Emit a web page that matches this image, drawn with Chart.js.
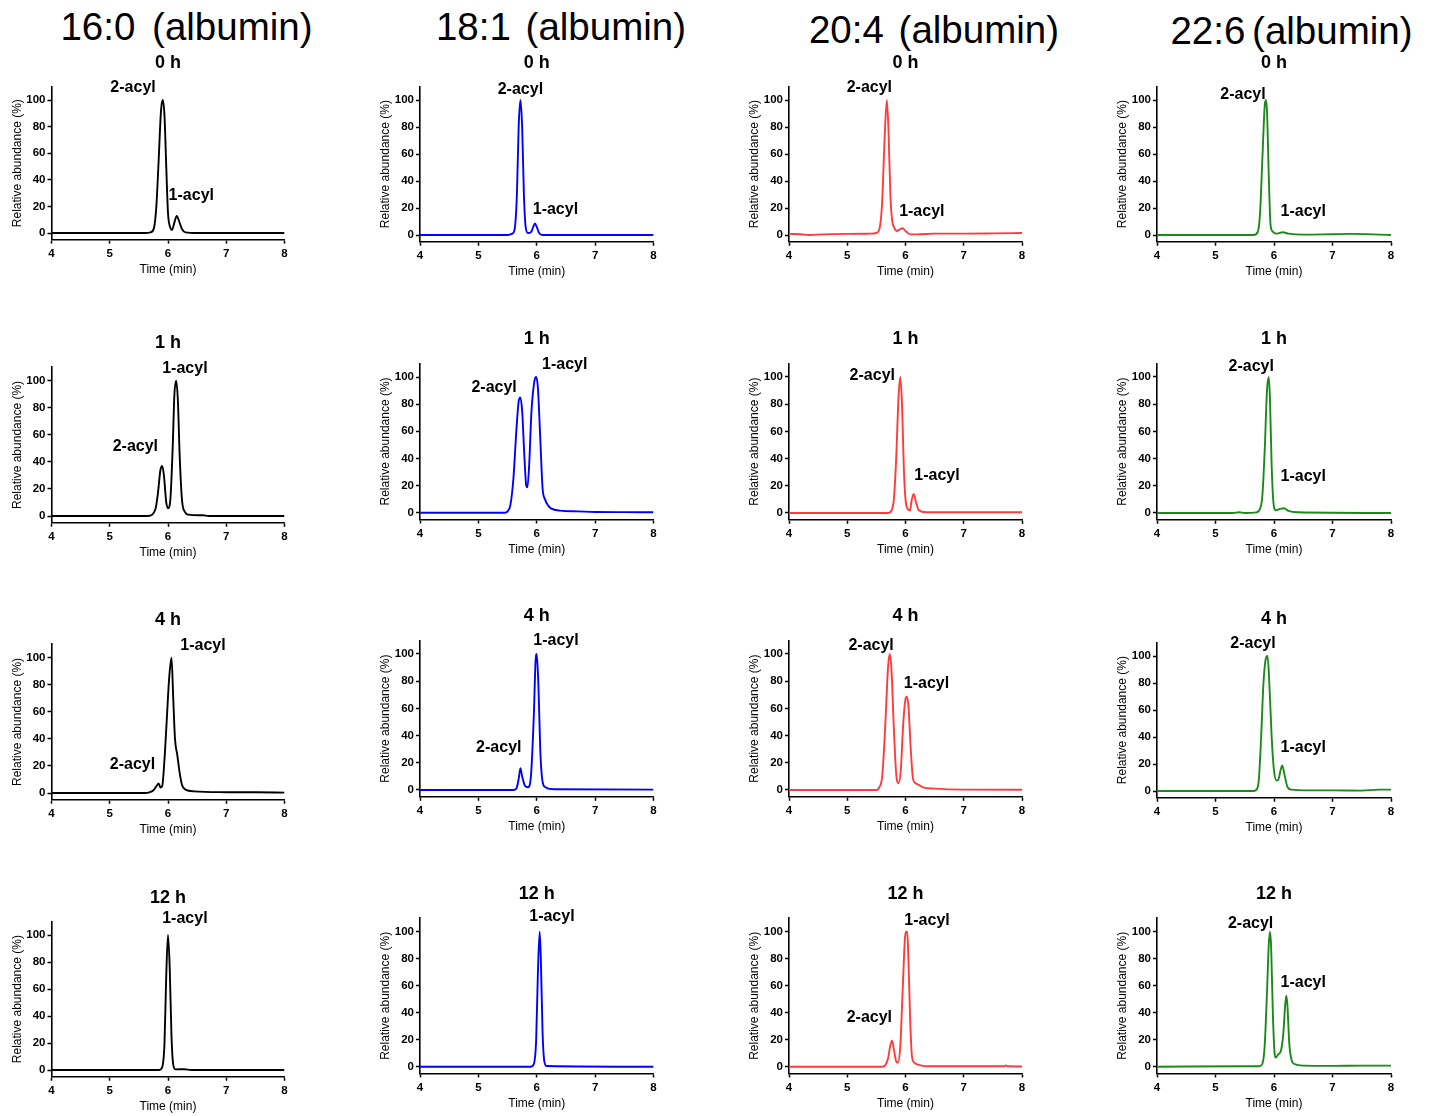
<!DOCTYPE html>
<html>
<head>
<meta charset="utf-8">
<title>Acyl migration - albumin</title>
<script src="https://cdn.jsdelivr.net/npm/chart.js@4.4.1/dist/chart.umd.min.js"></script>
<style>
  body { margin: 0; background: #fff; }
  #page { position: relative; width: 1429px; height: 1116px; overflow: hidden; }
  .head { position: absolute; width: 400px; text-align: center; font-family: 'Liberation Sans', Arial, sans-serif;
          font-size: 38.5px; line-height: 39px; color: #000; white-space: pre; }
  canvas { position: absolute; }
</style>
</head>
<body>
<div id="page"></div>
<script>
// Valeurs : [temps (min), abondance relative (%)]
const columnTitles = ['16:0 (albumin)', '18:1 (albumin)', '20:4 (albumin)', '22:6 (albumin)'];
const rowTitles = ['0 h', '1 h', '4 h', '12 h'];
const xTicks = [4, 5, 6, 7, 8];
const yTicks = [0, 20, 40, 60, 80, 100];
const lineColors = ['#000000', '#0000ff', '#ff3b3b', '#1a8a1a'];

// 0 h
const c16_0h = [[4,0],[5.6,0],[5.7,0.5],[5.76,4],[5.8,20],[5.84,55],[5.88,92],[5.91,100],[5.94,88],[5.97,50],[6.0,15],[6.04,4],[6.07,2.3],[6.11,8],[6.15,12.8],[6.19,9],[6.24,3],[6.3,0.5],[6.5,0],[8,0]];
const c18_0h = [[4,0],[5.5,0],[5.58,1],[5.62,4],[5.66,30],[5.69,80],[5.72,100],[5.75,80],[5.78,30],[5.81,6],[5.85,1.5],[5.9,2],[5.94,6],[5.97,8.5],[6.0,6],[6.04,1.5],[6.1,0],[8,0]];
const c20_0h = [[4,0.8],[4.2,0.6],[4.35,0],[4.6,0.5],[5,0.8],[5.4,1],[5.5,1.5],[5.56,6],[5.6,25],[5.64,70],[5.68,100],[5.71,75],[5.74,30],[5.77,11],[5.8,6],[5.85,3],[5.9,4],[5.95,5],[6.0,3],[6.08,0.5],[6.2,0.5],[6.5,1],[7,1],[7.5,1.2],[8,1.5]];
const c22_0h = [[4,0],[5.65,0],[5.72,2],[5.76,15],[5.8,55],[5.84,95],[5.86,100],[5.88,92],[5.91,45],[5.94,8],[5.97,3],[6.05,1],[6.15,2],[6.25,1],[6.5,0.3],[7,0.6],[7.3,0.8],[7.8,0.3],[8,0]];

// 1 h
const c16_1h = [[4,0],[5.65,0],[5.73,1],[5.79,6],[5.83,18],[5.87,34],[5.9,37],[5.93,30],[5.97,10],[6.0,5.7],[6.04,12],[6.08,50],[6.11,90],[6.14,100],[6.17,85],[6.2,45],[6.24,12],[6.29,3],[6.35,1],[6.6,0.5],[6.7,0],[8,0]];
const c18_1h = [[4,0],[5.45,0],[5.5,1],[5.55,6],[5.6,25],[5.65,60],[5.69,82],[5.72,85],[5.75,75],[5.79,40],[5.82,20],[5.84,18.7],[5.87,35],[5.91,75],[5.96,97],[5.99,100],[6.02,92],[6.06,55],[6.1,18],[6.14,10],[6.2,5],[6.25,3],[6.4,1.5],[6.7,1],[7,0.5],[7.5,0.4],[8,0.3]];
const c20_1h = [[4,0],[5.7,0],[5.76,2],[5.8,10],[5.84,40],[5.88,85],[5.91,100],[5.94,80],[5.97,35],[6.0,10],[6.04,3],[6.08,2],[6.1,8],[6.14,14],[6.18,8],[6.23,2],[6.35,0.5],[8,0.5]];
const c22_1h = [[4,0],[5.3,0],[5.4,0.5],[5.5,0],[5.7,0.5],[5.76,3],[5.8,12],[5.84,45],[5.88,90],[5.91,100],[5.93,85],[5.96,35],[5.99,8],[6.03,2],[6.1,3],[6.17,3.5],[6.25,1.5],[6.4,0.5],[8,0]];

// 4 h
const c16_4h = [[4,0],[5.6,0],[5.68,0.5],[5.75,2],[5.8,5],[5.84,7],[5.87,4],[5.9,5],[5.94,25],[5.98,55],[6.02,85],[6.06,100],[6.09,70],[6.12,40],[6.16,28],[6.2,15],[6.24,6],[6.3,2.5],[6.45,1.2],[7,0.6],[7.5,0.5],[8,0.3]];
const c18_4h = [[4,0],[5.6,0],[5.65,1],[5.69,8],[5.72,16],[5.75,10],[5.8,3],[5.85,2],[5.9,10],[5.95,55],[5.98,95],[6.0,100],[6.03,75],[6.06,30],[6.1,6],[6.15,2],[6.3,0.5],[8,0.3]];
const c20_4h = [[4,0],[5.5,0],[5.55,2],[5.6,10],[5.65,45],[5.7,90],[5.73,100],[5.76,88],[5.8,45],[5.84,12],[5.88,5],[5.92,15],[5.96,48],[6.0,67],[6.02,68.6],[6.05,62],[6.09,30],[6.13,8],[6.17,5],[6.22,4],[6.3,2],[6.5,1],[7,0.3],[8,0.2]];
const c22_4h = [[4,0],[5.65,0],[5.7,1],[5.74,8],[5.78,40],[5.82,80],[5.86,98],[5.89,100],[5.92,80],[5.96,40],[6.0,15],[6.04,8],[6.07,8],[6.11,15],[6.14,19],[6.18,12],[6.23,3],[6.3,1],[6.6,0.5],[7,0.5],[7.5,0.3],[7.8,1],[8,1]];

// 12 h
const c16_12h = [[4,0],[5.85,0],[5.9,2],[5.94,20],[5.97,70],[6.0,100],[6.03,75],[6.06,25],[6.09,4],[6.13,0.5],[6.28,0.6],[6.4,0],[8,0]];
const c18_12h = [[4,0],[5.9,0],[5.95,2],[5.99,20],[6.02,70],[6.05,100],[6.07,80],[6.1,25],[6.13,4],[6.17,0.5],[8,0]];
const c20_12h = [[4,0],[5.6,0],[5.65,1],[5.7,6],[5.74,16],[5.77,19.3],[5.8,13],[5.84,4],[5.87,3],[5.91,15],[5.95,55],[5.99,95],[6.01,100],[6.03,100],[6.05,80],[6.08,35],[6.11,8],[6.15,3],[6.22,1.5],[6.35,0.3],[7.7,0.3],[7.72,1],[7.75,0.3],[8,0.2]];
const c22_12h = [[4,0],[5.5,0.3],[5.75,0.3],[5.8,2],[5.84,15],[5.88,55],[5.91,90],[5.93,100],[5.95,90],[5.98,40],[6.01,10],[6.03,6.7],[6.07,9],[6.12,12],[6.16,25],[6.19,45],[6.21,52.6],[6.23,45],[6.26,18],[6.3,5],[6.35,2],[6.5,0.8],[7,0.6],[7.5,0.8],[8,0.8]];

// étiquettes des pics : [texte, temps, abondance]
const lab16_0h = [['2-acyl', 5.40, 110], ['1-acyl', 6.40, 29]];
const lab18_0h = [['2-acyl', 5.72, 109], ['1-acyl', 6.32, 20]];
const lab20_0h = [['2-acyl', 5.38, 110], ['1-acyl', 6.28, 18]];
const lab22_0h = [['2-acyl', 5.47, 105], ['1-acyl', 6.50, 18]];
const lab16_1h = [['1-acyl', 6.29, 110], ['2-acyl', 5.44, 52.5]];
const lab18_1h = [['1-acyl', 6.48, 110], ['2-acyl', 5.27, 93]];
const lab20_1h = [['2-acyl', 5.43, 102], ['1-acyl', 6.54, 28.5]];
const lab22_1h = [['2-acyl', 5.61, 108.5], ['1-acyl', 6.50, 28]];
const lab16_4h = [['1-acyl', 6.60, 110], ['2-acyl', 5.39, 22]];
const lab18_4h = [['1-acyl', 6.33, 110.5], ['2-acyl', 5.35, 32]];
const lab20_4h = [['2-acyl', 5.41, 107], ['1-acyl', 6.36, 79]];
const lab22_4h = [['2-acyl', 5.64, 110], ['1-acyl', 6.50, 33]];
const lab16_12h = [['1-acyl', 6.29, 113]];
const lab18_12h = [['1-acyl', 6.26, 112]];
const lab20_12h = [['1-acyl', 6.37, 109.4], ['2-acyl', 5.38, 37]];
const lab22_12h = [['2-acyl', 5.60, 107], ['1-acyl', 6.50, 63]];

const traces = [
  [c16_0h, c18_0h, c20_0h, c22_0h],
  [c16_1h, c18_1h, c20_1h, c22_1h],
  [c16_4h, c18_4h, c20_4h, c22_4h],
  [c16_12h, c18_12h, c20_12h, c22_12h]
];
const peakLabels = [
  [lab16_0h, lab18_0h, lab20_0h, lab22_0h],
  [lab16_1h, lab18_1h, lab20_1h, lab22_1h],
  [lab16_4h, lab18_4h, lab20_4h, lab22_4h],
  [lab16_12h, lab18_12h, lab20_12h, lab22_12h]
];

// mise en page (pixels) : x de 4 et 8 min par colonne, y de 100 % et 0 % par panneau
const colX = [[51.5, 284.5], [420, 653.5], [789, 1022], [1157, 1391]];
const rowY = [
  [[100, 233], [100, 235], [100, 235], [100, 235]],
  [[380.7, 516], [377, 512.7], [377, 513], [377, 513]],
  [[657.7, 793], [654, 790], [654, 790], [656, 791]],
  [[935, 1070], [931.7, 1066.7], [931.7, 1066.7], [931.7, 1066.7]]
];
const headPos = [[186.5, 7, 6], [561, 7, 4], [934, 10, 4], [1291.5, 11, -4]];

const FONT = "'Liberation Sans', Arial, sans-serif";
Chart.defaults.font.family = FONT;
Chart.defaults.color = '#000';

const page = document.getElementById('page');

columnTitles.forEach((t, i) => {
  const d = document.createElement('div');
  d.className = 'head';
  d.textContent = t;
  d.style.left = (headPos[i][0] - 200) + 'px';
  d.style.top = headPos[i][1] + 'px';
  d.style.wordSpacing = headPos[i][2] + 'px';
  page.appendChild(d);
});

// titre du panneau + étiquettes des pics
const panelText = {
  id: 'panelText',
  afterDraw(chart, args, opts) {
    const {ctx, chartArea, scales} = chart;
    ctx.save();
    ctx.fillStyle = '#000';
    ctx.textAlign = 'center';
    ctx.textBaseline = 'alphabetic';
    ctx.font = 'bold 18px ' + FONT;
    ctx.fillText(opts.title, (chartArea.left + chartArea.right) / 2, chartArea.top - 19);
    ctx.font = 'bold 16px ' + FONT;
    opts.labels.forEach(([text, t, v]) => {
      ctx.fillText(text, scales.x.getPixelForValue(t), scales.y.getPixelForValue(v) + 5.7);
    });
    ctx.restore();
  }
};

const PAD_T = 50, Y_W = 50, X_H = 42, PAD_B = 5, PAD_R = 25;

for (let r = 0; r < 4; r++) {
  for (let c = 0; c < 4; c++) {
    const [xl, xr] = colX[c];
    const [y100, y0] = rowY[r][c];
    const k = (y0 - y100) / 100;
    const top = y100 - 10 * k, bottom = y0 + 5 * k;
    const left = Math.round(xl - Y_W), ctop = Math.round(top - PAD_T);
    const w = Math.round(xr - left + PAD_R);
    const h = Math.round(bottom - ctop + X_H + PAD_B);

    const canvas = document.createElement('canvas');
    canvas.width = w; canvas.height = h;
    canvas.style.left = left + 'px';
    canvas.style.top = ctop + 'px';
    canvas.style.width = w + 'px';
    canvas.style.height = h + 'px';
    page.appendChild(canvas);

    new Chart(canvas.getContext('2d'), {
      type: 'line',
      data: {
        datasets: [{
          data: traces[r][c].map(([x, y]) => ({x, y})),
          borderColor: lineColors[c],
          borderWidth: 1.9,
          pointRadius: 0,
          cubicInterpolationMode: 'monotone',
          fill: false
        }]
      },
      options: {
        responsive: false,
        animation: false,
        layout: {
          padding: {left: 0, top: top - ctop, right: w - (xr - left), bottom: h - (bottom - ctop) - X_H}
        },
        plugins: {
          legend: {display: false},
          tooltip: {enabled: false},
          panelText: {title: rowTitles[r], labels: peakLabels[r][c]}
        },
        scales: {
          x: {
            type: 'linear', min: 4, max: 8,
            afterBuildTicks: s => { s.ticks = xTicks.map(v => ({value: v})); },
            afterFit: s => { s.height = X_H; },
            grid: {display: true, drawOnChartArea: false, drawTicks: true, tickLength: 4, tickWidth: 1.5, tickColor: '#000'},
            border: {display: true, color: '#000', width: 1.6},
            ticks: {padding: 3, maxRotation: 0, font: {size: 11.5, weight: 'bold'}},
            title: {display: true, text: 'Time (min)', font: {size: 12}, padding: {top: 0, bottom: 5}}
          },
          y: {
            type: 'linear', min: -5, max: 110,
            afterBuildTicks: s => { s.ticks = yTicks.map(v => ({value: v})); },
            afterFit: s => { s.width = xl - left; },
            grid: {display: true, drawOnChartArea: false, drawTicks: true, tickLength: 4, tickWidth: 1.5, tickColor: '#000'},
            border: {display: true, color: '#000', width: 1.6},
            ticks: {padding: 2, font: {size: 11.5, weight: 'bold'}},
            title: {display: true, text: 'Relative abundance (%)', font: {size: 12}, padding: {top: 8, bottom: 0}}
          }
        }
      },
      plugins: [panelText]
    });
  }
}
</script>
</body>
</html>
